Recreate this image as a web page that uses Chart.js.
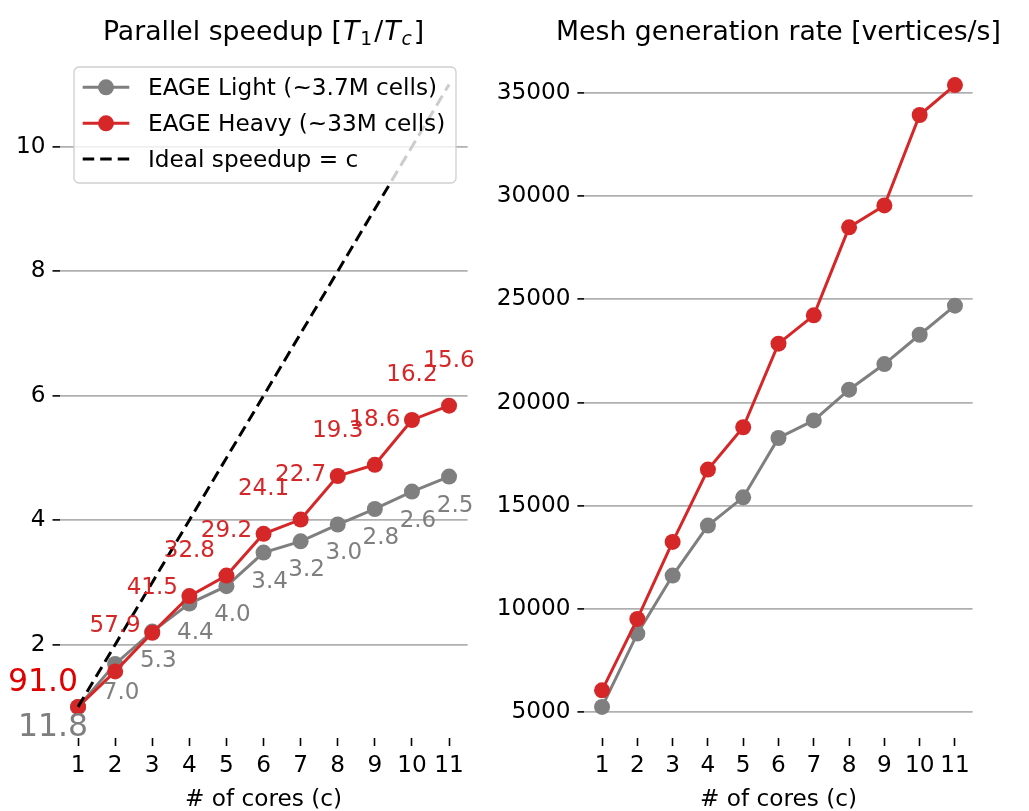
<!DOCTYPE html>
<html>
<head>
<meta charset="utf-8">
<script src="https://cdn.jsdelivr.net/npm/chart.js@4/dist/chart.umd.min.js"></script>
<style>
  body { margin: 0; background: #fff; width: 1029px; height: 811px; overflow: hidden; position: relative; }
  canvas { position: absolute; top: 0; }
  #speedup { left: 0; }
  #rate { left: 480px; }
</style>
</head>
<body>
<canvas id="speedup" width="500" height="811"></canvas>
<canvas id="rate" width="549" height="811"></canvas>
<script>
// cores used on the x axis of both panels
const cores = [1, 2, 3, 4, 5, 6, 7, 8, 9, 10, 11];

// speedup T1/Tc
const lightSpeedup = [1.00, 1.69, 2.21, 2.66, 2.94, 3.48, 3.66, 3.93, 4.18, 4.46, 4.70];
const heavySpeedup = [1.00, 1.57, 2.19, 2.78, 3.11, 3.78, 4.01, 4.71, 4.89, 5.61, 5.84];
const idealSpeedup = [1, 2, 3, 4, 5, 6, 7, 8, 9, 10, 11];

// wall times printed next to each point (seconds)
const lightTimes = ['11.8', '7.0', '5.3', '4.4', '4.0', '3.4', '3.2', '3.0', '2.8', '2.6', '2.5'];
const heavyTimes = ['91.0', '57.9', '41.5', '32.8', '29.2', '24.1', '22.7', '19.3', '18.6', '16.2', '15.6'];

// vertices per second, right panel
const lightRate = [5260, 8810, 11620, 14040, 15410, 18280, 19130, 20620, 21860, 23280, 24690];
const heavyRate = [6065, 9520, 13250, 16750, 18800, 22850, 24220, 28480, 29540, 33920, 35370];

const speedupTicks = [2, 4, 6, 8, 10];
const rateTicks = [5000, 10000, 15000, 20000, 25000, 30000, 35000];

const GRAY = '#7f7f7f';
const RED = '#d62728';
const FONT = '"DejaVu Sans", sans-serif';
const FS = 23.2;
const LW = 3;

Chart.defaults.font.family = FONT;
Chart.defaults.font.size = FS;
Chart.defaults.color = '#000';

const pts = ys => cores.map((c, i) => ({ x: c, y: ys[i] }));

function lineSet(label, ys, color, order) {
  return {
    label, data: pts(ys), order,
    borderColor: color, backgroundColor: color,
    borderWidth: LW, pointRadius: 8, pointHoverRadius: 8,
    pointBorderWidth: 0, pointBackgroundColor: color, tension: 0
  };
}

function xScale() {
  return {
    type: 'linear', min: 0.5, max: 11.5,
    afterBuildTicks: s => { s.ticks = cores.map(v => ({ value: v })); },
    afterFit: s => { s.height = 73; },
    grid: { drawOnChartArea: false, tickColor: '#000', tickLength: 8, tickWidth: 1.6 },
    border: { display: false },
    ticks: { padding: 6, color: '#000', maxRotation: 0, callback: v => String(v) },
    title: { display: true, text: '# of cores (c)', color: '#000', padding: { top: 0, bottom: -3 }, font: { size: FS } }
  };
}

function yScale(min, max, ticks, width) {
  return {
    type: 'linear', min, max,
    afterBuildTicks: s => { s.ticks = ticks.map(v => ({ value: v })); },
    afterFit: s => { s.width = width; },
    grid: { color: '#b0b0b0', lineWidth: 1.8, tickColor: '#000', tickLength: 7, tickWidth: 1.6 },
    border: { display: false },
    ticks: { padding: 7, color: '#000', callback: v => String(v) }
  };
}

// title with mathtext-like parts
const titlePlugin = {
  id: 'partsTitle',
  afterDraw(chart, args, opts) {
    const { ctx, chartArea } = chart;
    const parts = opts.parts || [];
    ctx.save();
    ctx.textBaseline = 'alphabetic';
    ctx.fillStyle = '#000';
    const fontOf = p => `${p.italic ? 'oblique ' : ''}${p.sub ? 18.7 : 26.7}px ${FONT}`;
    const widths = parts.map(p => { ctx.font = fontOf(p); return ctx.measureText(p.t).width + (p.gap || 0); });
    let x = (chartArea.left + chartArea.right) / 2 - widths.reduce((a, b) => a + b, 0) / 2;
    parts.forEach((p, i) => {
      ctx.font = fontOf(p);
      ctx.fillText(p.t, x, 39.5 + (p.sub ? 5 : 0));
      x += widths[i];
    });
    ctx.restore();
  }
};

// time labels next to the speedup points
const timeLabels = {
  id: 'timeLabels',
  afterDatasetsDraw(chart) {
    const { ctx } = chart;
    ctx.save();
    ctx.textBaseline = 'middle';
    chart.data.datasets.forEach((ds, di) => {
      if (!ds.times) return;
      const meta = chart.getDatasetMeta(di);
      meta.data.forEach((pt, j) => {
        const heavy = ds.times === heavyTimes;
        if (j === 0) {
          ctx.font = `31.5px ${FONT}`;
          ctx.textAlign = 'right';
          ctx.fillStyle = heavy ? '#e00000' : GRAY;
          ctx.fillText(ds.times[j], heavy ? pt.x : pt.x + 10, heavy ? pt.y - 24 : pt.y + 21);
        } else {
          ctx.font = `23px ${FONT}`;
          ctx.textAlign = 'center';
          ctx.fillStyle = heavy ? RED : GRAY;
          if (heavy) ctx.fillText(ds.times[j], pt.x, pt.y - 45);
          else ctx.fillText(ds.times[j], pt.x + 6, pt.y + 29);
        }
      });
    });
    ctx.restore();
  }
};

// matplotlib-style legend box drawn over the data
const boxLegend = {
  id: 'boxLegend',
  afterDraw(chart) {
    const { ctx } = chart;
    const rows = [87.3, 123.3, 159];
    ctx.save();
    ctx.beginPath();
    ctx.roundRect(74, 67, 382, 116, 5);
    ctx.fillStyle = 'rgba(255,255,255,0.8)';
    ctx.fill();
    ctx.strokeStyle = '#cfcfcf';
    ctx.lineWidth = 1.3;
    ctx.stroke();
    chart.data.datasets.forEach((ds, i) => {
      const y = rows[i];
      ctx.beginPath();
      ctx.setLineDash(ds.borderDash || []);
      ctx.moveTo(82.7, y);
      ctx.lineTo(129.3, y);
      ctx.strokeStyle = ds.borderColor;
      ctx.lineWidth = LW;
      ctx.stroke();
      ctx.setLineDash([]);
      if (ds.pointRadius) {
        ctx.beginPath();
        ctx.arc(106, y, 8, 0, Math.PI * 2);
        ctx.fillStyle = ds.borderColor;
        ctx.fill();
      }
      ctx.font = `${FS}px ${FONT}`;
      ctx.fillStyle = '#000';
      ctx.textAlign = 'left';
      ctx.textBaseline = 'middle';
      ctx.fillText(ds.label, 148, y + 1.5);
    });
    ctx.restore();
  }
};

new Chart(document.getElementById('speedup'), {
  type: 'line',
  data: {
    datasets: [
      Object.assign(lineSet('EAGE Light (~3.7M cells)', lightSpeedup, GRAY, 3), { times: lightTimes }),
      Object.assign(lineSet('EAGE Heavy (~33M cells)', heavySpeedup, RED, 2), { times: heavyTimes }),
      {
        label: 'Ideal speedup = c', data: pts(idealSpeedup), order: 1,
        borderColor: '#000', borderWidth: LW, borderDash: [11.5, 6], pointRadius: 0, tension: 0
      }
    ]
  },
  options: {
    responsive: false, animation: false, events: [],
    layout: { padding: { top: 53.4, right: 32.4, bottom: 0, left: 0 } },
    plugins: {
      legend: { display: false }, tooltip: { enabled: false },
      partsTitle: {
        parts: [
          { t: 'Parallel speedup [', gap: 1 }, { t: 'T', italic: true, gap: 1 }, { t: '1', sub: true, gap: 2 },
          { t: '/', gap: 1 }, { t: 'T', italic: true, gap: 1 }, { t: 'c', italic: true, sub: true, gap: 2 }, { t: ']' }
        ]
      }
    },
    scales: { x: xScale(), y: yScale(0.5, 11.5, speedupTicks, 59.5) }
  },
  plugins: [titlePlugin, timeLabels, boxLegend]
});

new Chart(document.getElementById('rate'), {
  type: 'line',
  data: {
    datasets: [
      lineSet('EAGE Light (~3.7M cells)', lightRate, GRAY, 2),
      lineSet('EAGE Heavy (~33M cells)', heavyRate, RED, 1)
    ]
  },
  options: {
    responsive: false, animation: false, events: [],
    layout: { padding: { top: 54, right: 56.4, bottom: 0, left: 0 } },
    plugins: {
      legend: { display: false }, tooltip: { enabled: false },
      partsTitle: { parts: [{ t: 'Mesh generation rate [vertices/s]' }] }
    },
    scales: { x: xScale(), y: yScale(3756, 36873, rateTicks, 104.4) }
  },
  plugins: [titlePlugin]
});
</script>
</body>
</html>
